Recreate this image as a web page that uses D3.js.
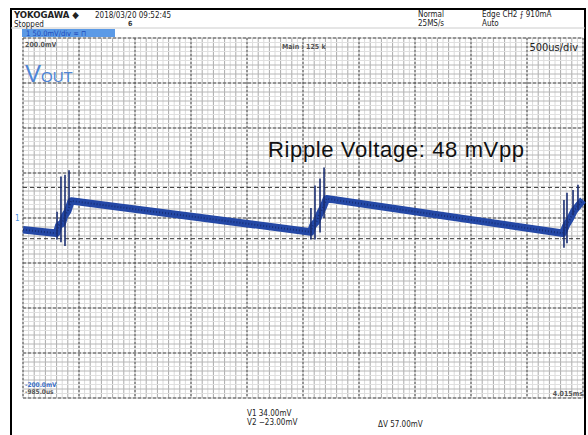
<!DOCTYPE html>
<html><head><meta charset="utf-8">
<script src="https://cdn.jsdelivr.net/npm/d3@7"></script>
<style>
html,body{margin:0;padding:0;background:#fff;}
svg{display:block;}
.sm{font-family:"Liberation Sans Narrow","DejaVu Sans Condensed",Arial,sans-serif;}
</style></head>
<body>
<svg id="c" width="588" height="435"></svg>
<script>
// ---- data ----
const timeDomain = [-0.985, 4.015];        // ms, 500us/div x 10 div
const voltDomain = [-200, 200];            // mV, 50mV/div x 8 div
const divisionsX = 10, divisionsY = 8, subDiv = 5;
// averaged trace (time ms, mV)
const traceT = [-0.985,-0.685,-0.665,-0.635,-0.615,-0.585,-0.555,1.585,1.605,1.635,1.665,1.695,1.725,3.835,3.865,3.895,3.935,3.975,4.015];
const traceV = [-13,-17,-8,-6,2,8,19,-15.5,-8,-4,5,12,21.5,-17,-8,-2,8,14,20];
// switching spikes (time ms, low mV, high mV)
const spikeT  = [-0.681,-0.646,-0.610,-0.574,1.586,1.622,1.667,1.703,3.845,3.872,3.926,3.970];
const spikeLo = [-24,-27,-31,14,-24,-24,-16,0,-33,-28,3,9];
const spikeHi = [7,46,48,53,11,36,44,56,20,28,31,37];
const cursorNames = ["V1","V2"];
const cursorVals = [34,-23];
const deltaV = 57;

// ---- layout ----
const svg = d3.select("#c");
const L=23, R=583, T=38, B=398;
const x = d3.scaleLinear().domain(timeDomain).range([L,R]);
const y = d3.scaleLinear().domain(voltDomain).range([B,T]);
const divT = (timeDomain[1]-timeDomain[0])/divisionsX;
const divV = (voltDomain[1]-voltDomain[0])/divisionsY;

// frame
svg.append("rect").attr("x",11).attr("y",9).attr("width",574).attr("height",440)
  .attr("fill","none").attr("stroke","#000").attr("stroke-width",2);
svg.append("line").attr("x1",11).attr("x2",585).attr("y1",28).attr("y2",28).attr("stroke","#ccc");

const g = svg.append("g");
// fine grid
for(let i=0;i<=divisionsX*subDiv*2;i++){
  const t = timeDomain[0]+i*divT/(subDiv*2);
  g.append("line").attr("x1",x(t)).attr("x2",x(t)).attr("y1",T).attr("y2",B)
   .attr("stroke", i%2? "#dadada":"#ababab").attr("stroke-width",1);
}
for(let i=0;i<=divisionsY*subDiv*2;i++){
  const v = voltDomain[0]+i*divV/(subDiv*2);
  g.append("line").attr("x1",L).attr("x2",R).attr("y1",y(v)).attr("y2",y(v))
   .attr("stroke", i%2? "#e0e0e0":"#b6b6b6").attr("stroke-width",1);
}
// major grid (dashed)
for(let i=0;i<=divisionsX;i++){
  const t = timeDomain[0]+i*divT;
  g.append("line").attr("x1",x(t)).attr("x2",x(t)).attr("y1",T).attr("y2",B)
   .attr("stroke","#555").attr("stroke-width",1).attr("stroke-dasharray","2,2");
}
for(let i=0;i<=divisionsY;i++){
  const v = voltDomain[0]+i*divV;
  g.append("line").attr("x1",L).attr("x2",R).attr("y1",y(v)).attr("y2",y(v))
   .attr("stroke","#555").attr("stroke-width",1).attr("stroke-dasharray","3,2");
}
// cursors
cursorVals.forEach(v=>{
  g.append("line").attr("x1",L).attr("x2",R).attr("y1",y(v)).attr("y2",y(v))
   .attr("stroke","#333").attr("stroke-width",1).attr("stroke-dasharray","4,3");
});

// trace
const pts = traceT.map((t,i)=>[t,traceV[i]]);
const line = d3.line().x(d=>x(d[0])).y(d=>y(d[1]));
svg.append("path").attr("d",line(pts)).attr("fill","none")
  .attr("stroke","#2448a6").attr("stroke-width",7.5).attr("stroke-linejoin","round");
svg.append("path").attr("d",line(pts)).attr("fill","none")
  .attr("stroke","#172f78").attr("stroke-width",2).attr("stroke-dasharray","1,2").attr("stroke-linejoin","round");
spikeT.forEach((t,i)=>{
  svg.append("line").attr("x1",x(t)).attr("x2",x(t)).attr("y1",y(spikeHi[i])).attr("y2",y(spikeLo[i]))
    .attr("stroke","#1b2f72").attr("stroke-width",1.6);
});

// ground marker
svg.append("text").attr("class","sm").attr("x",15).attr("y",y(0)+3).attr("font-size",8).attr("fill","#4a8fe0").text("1");

// header
const hdr=[
 {t:"YOKOGAWA ◆",x:14,y:18,w:"bold",s:9.5},
 {t:"2018/03/20 09:52:45",x:95,y:18},
 {t:"Stopped",x:14,y:26.5},
 {t:"Normal",x:418,y:17},
 {t:"25MS/s",x:418,y:25.5},
 {t:"Edge CH2 ⨍ 910mA",x:482,y:17},
 {t:"Auto",x:482,y:25.5}
];
hdr.forEach(h=>svg.append("text").attr("class","sm").attr("x",h.x).attr("y",h.y)
  .attr("font-size",h.s||8).attr("font-weight",h.w||"normal").attr("fill","#222").text(h.t));
svg.append("text").attr("class","sm").attr("x",128).attr("y",26).attr("font-size",7).attr("font-weight","bold").attr("fill","#333").text("6");
svg.append("rect").attr("x",22).attr("y",29).attr("width",93).attr("height",8).attr("fill","#5b9ae6");
svg.append("text").attr("class","sm").attr("x",26).attr("y",36).attr("font-size",7.5).attr("fill","#1c48b8").text("1  50.0mV/div ≂ ⊓");

svg.append("text").attr("class","sm").attr("x",25).attr("y",47).attr("font-size",7).attr("font-weight","bold").attr("fill","#555").text("200.0mV");
svg.append("text").attr("class","sm").attr("x",282).attr("y",49).attr("font-size",7).attr("font-weight","bold").attr("fill","#555").text("Main : 125 k");
svg.append("text").attr("class","sm").attr("x",578).attr("y",51).attr("text-anchor","end").attr("font-size",11).attr("fill","#222").text("500us/div");

svg.append("text").attr("class","sm").attr("x",25).attr("y",387).attr("font-size",6.5).attr("font-weight","bold").attr("fill","#3a6fc8").text("-200.0mV");
svg.append("text").attr("class","sm").attr("x",25).attr("y",394).attr("font-size",6.5).attr("font-weight","bold").attr("fill","#555").text("-985.0us");
svg.append("text").attr("class","sm").attr("x",583).attr("y",396).attr("text-anchor","end").attr("font-size",7).attr("font-weight","bold").attr("fill","#555").text("4.015ms");

// cursor readouts
cursorNames.forEach((n,i)=>{
  svg.append("text").attr("class","sm").attr("x",247).attr("y",416+i*8.5).attr("font-size",8).attr("fill","#222")
    .text(n+" "+(cursorVals[i]>=0?" ":"")+d3.format(".2f")(cursorVals[i]).replace("-","−")+"mV");
});
svg.append("text").attr("class","sm").attr("x",378).attr("y",427).attr("font-size",8).attr("fill","#222").text("ΔV  "+d3.format(".2f")(deltaV)+"mV");

// annotations
const vo = svg.append("text").attr("x",25).attr("y",82).attr("fill","#4f86d6").attr("font-family","Liberation Sans, Arial, sans-serif");
vo.append("tspan").attr("font-size",24).text("V");
vo.append("tspan").attr("font-size",15).text("OUT");
svg.append("text").attr("x",268).attr("y",157).attr("font-family","Liberation Sans, Arial, sans-serif")
  .attr("font-size",22).attr("textLength",256).attr("lengthAdjust","spacing")
  .attr("fill","#111").text("Ripple Voltage: 48 mVpp");
</script>
</body></html>
